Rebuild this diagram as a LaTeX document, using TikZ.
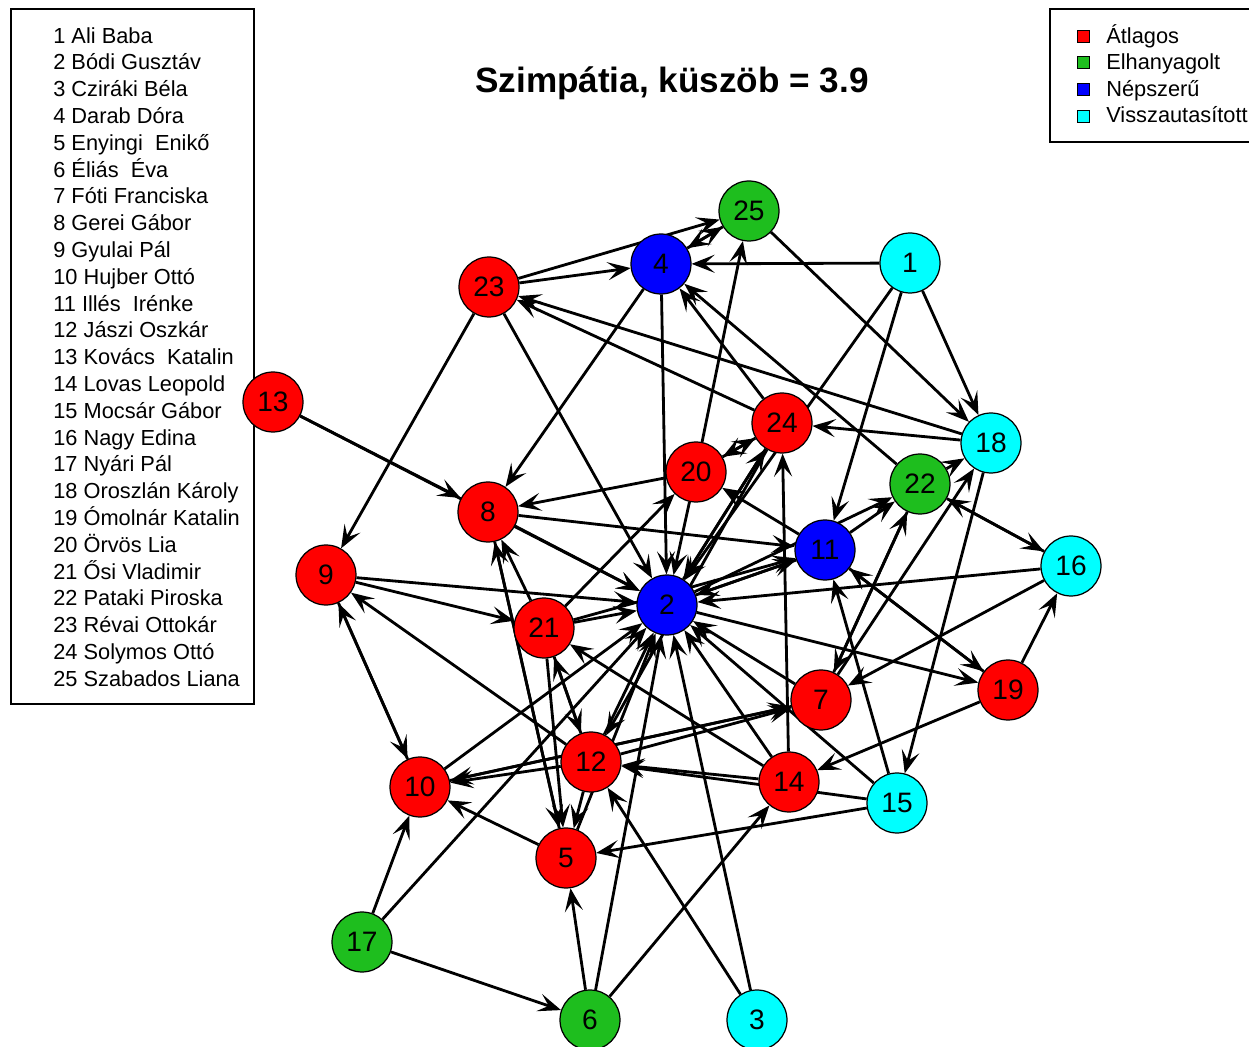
\documentclass[tikz,border=0pt]{standalone}
\usepackage{fontspec}
\setmainfont{Liberation Sans}
\usetikzlibrary{arrows.meta,backgrounds}
\definecolor{atlagos}{RGB}{255,0,0}
\definecolor{elhany}{RGB}{30,190,30}
\definecolor{nepsz}{RGB}{0,0,255}
\definecolor{vissza}{RGB}{0,255,255}
\tikzset{
	every person/.style={
		circle,
		draw,
		line width=0.7pt,
		minimum size=1.2cm,
		inner sep=0pt,
		font=\fontsize{16}{18}\selectfont
	},
	person a/.style={fill=atlagos},
	person e/.style={fill=elhany},
	person n/.style={fill=nepsz},
	person v/.style={fill=vissza},
	legend key/.style={
		draw,
		minimum size=0.24cm,
		inner sep=0pt
	},
	list name/.style={
		anchor=base west,
		inner sep=0pt,
		font=\fontsize{12.4}{14}\selectfont
	},
}

\begin{document}
\begin{tikzpicture}[x=0.02cm, y=-0.02cm, >={Stealth[length=4.6mm, width=3.6mm, inset=2mm]}]

\useasboundingbox (0,0) rectangle (1249,1047);

% names
\draw [line width=0.7pt] (11,9) rectangle (254,704);
\foreach \t [count=\i] in {1 Ali Baba, 2 Bódi Gusztáv, 3 Cziráki Béla, 4 Darab Dóra,
	5 Enyingi\ \ Enikő, 6 Éliás\ \ Éva, 7 Fóti Franciska, 8 Gerei Gábor, 9 Gyulai Pál,
	10 Hujber Ottó, 11 Illés\ \ Irénke, 12 Jászi Oszkár, 13 Kovács\ \ Katalin,
	14 Lovas Leopold, 15 Mocsár Gábor, 16 Nagy Edina, 17 Nyári Pál,
	18 Oroszlán Károly, 19 Ómolnár Katalin, 20 Örvös Lia, 21 Ősi Vladimir,
	22 Pataki Piroska, 23 Révai Ottokár, 24 Solymos Ottó, 25 Szabados Liana}
	\node [list name] (name-\i) at (53,{16.4+26.8*\i}) {\t};

\node (title) at (672,83) {\fontsize{20}{24}\selectfont\bfseries Szimpátia, küszöb = 3.9};

% legend
\begin{scope}
	\clip (1040,0) rectangle (1249,150);
	\draw [line width=0.7pt] (1050,9) rectangle (1275,142);
	\foreach \c/\t [count=\k] in {atlagos/Átlagos, elhany/Elhanyagolt, nepsz/Népszerű, vissza/Visszautasított} {
		\node [legend key, fill=\c] (key-\k) at (1083,{9.5+26.6*\k}) {};
		\node [list name] (kind-\k) at (1106,{16.5+26.6*\k}) {\t};
	}
\end{scope}

% people
\foreach \n/\x/\y/\c in {1/910/263/v, 2/667/605/n, 3/757/1020/v, 4/661/264/n,
	5/566/858/a, 6/590/1020/e, 7/821/700/a, 8/488/512/a, 9/326/575/a,
	10/420/787/a, 11/825/550/n, 12/591/762/a, 13/273/402/a, 14/789/782/a,
	15/897/803/v, 16/1071/566/v, 17/362/942/e, 18/991/443/v, 19/1008/690/a,
	20/696/472/a, 21/544/628/a, 22/920/484/e, 23/489/287/a, 24/782/423/a,
	25/749/211/e}
	\node [every person, person \c] (p-\n) at (\x,\y) {\n};

% choices
\begin{scope}[on background layer]
\foreach \i/\j in {1/4, 1/18, 1/11, 1/2, 3/2, 3/12, 4/25, 25/4, 4/8, 4/2,
	23/4, 23/25, 23/9, 23/2, 18/23, 24/23, 22/4, 24/4, 20/25, 20/8, 20/2,
	20/24, 24/20, 25/18, 13/8, 13/2, 8/2, 8/11, 8/5, 5/8, 21/8,
	9/21, 9/2, 9/10, 10/9, 12/9, 10/2, 12/10, 5/10, 17/10, 7/10, 10/7,
	17/2, 17/6, 6/5, 6/2, 6/14, 12/5, 21/5, 15/5, 5/2,
	12/21, 21/12, 12/2, 12/7, 21/2, 21/20, 21/11, 2/11,
	11/2, 11/22, 2/22, 11/19, 19/11, 11/20, 15/11, 15/12, 15/2,
	14/24, 14/2, 14/12, 14/21, 19/14, 7/2, 7/22, 22/7, 16/7, 7/18,
	16/2, 16/22, 22/16, 19/16, 2/19, 18/24, 18/15, 22/18,
	24/2, 2/24, 24/12}
	\draw [->, line width=1.6pt] (p-\i) -- (p-\j);
\end{scope}

\end{tikzpicture}
\end{document}
